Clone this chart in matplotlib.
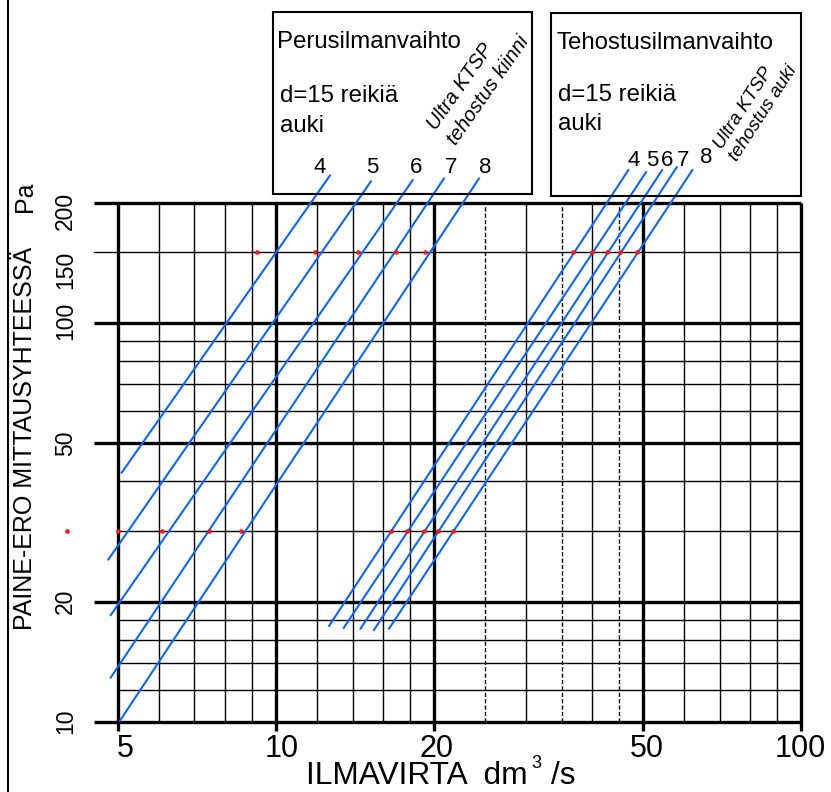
import matplotlib
matplotlib.use("Agg")
import matplotlib.pyplot as plt
from matplotlib.patches import Rectangle
from matplotlib.lines import Line2D
from matplotlib.ticker import NullLocator
import matplotlib.transforms as mtransforms

plt.rcParams['font.family'] = ['Liberation Sans', 'DejaVu Sans']

W, H = 831, 792

# ---------------- data ----------------
# x-axis: airflow dm3/s, y-axis: pressure difference Pa
xtick_vals = [5, 10, 20, 50, 100]
xtick_labels = ['5', '10', '20', '50', '100']
ytick_vals = [10, 20, 50, 100, 150, 200]
ytick_labels = ['10', '20', '50', '100', '150', '200']

x_thick = [5, 10, 20, 50, 100]
x_thin = [6, 7, 8, 9, 12, 14, 16, 18, 30, 40, 60, 70, 80, 90]
x_dashed = [25, 35, 45]
y_thick = [10, 20, 50, 100, 200]
y_thin = [12, 14, 16, 18, 30, 40, 60, 70, 80, 90]
y_thin_ext = [150]

# Perusilmanvaihto lines (setting 4..8): start / end points
base_labels = ['4', '5', '6', '7', '8']
base_q0 = [5.09, 4.80, 4.85, 4.85, 5.05]
base_p0 = [42.1, 25.5, 18.5, 12.9, 10.06]
base_q1 = [12.68, 15.17, 18.22, 20.9, 24.37]
base_p1 = [233.7, 225.8, 227.5, 229.7, 229.7]

# Tehostusilmanvaihto lines (setting 4..8)
boost_labels = ['4', '5', '6', '7', '8']
boost_q0 = [12.63, 13.47, 14.5, 15.38, 16.43]
boost_p0 = [17.38, 17.18, 17.11, 16.98, 17.11]
boost_q1 = [46.9, 50.7, 54.4, 58.0, 62.1]
boost_p1 = [241.0, 238.3, 241.0, 245.2, 241.0]

# measured points (red dots)
base_pts_q_150 = [9.22, 11.87, 14.32, 16.92, 19.24]
base_pts_q_30 = [4.01, 5.0, 6.07, 7.47, 8.59]
boost_pts_q_150 = [36.75, 39.95, 42.66, 45.2, 48.8]
boost_pts_q_30 = [16.57, 17.8, 19.17, 20.39, 21.77]
pts_p_high = 150
pts_p_low = 30

# ---------------- figure ----------------
fig = plt.figure(figsize=(W / 100, H / 100), dpi=100)


def fx(px):
    return px / W


def fy(py):
    return 1 - py / H


ax_l, ax_r, ax_t, ax_b = 117.7, 801.0, 202.5, 721.7
ax = fig.add_axes([fx(ax_l), fy(ax_b), fx(ax_r) - fx(ax_l), fy(ax_t) - fy(ax_b)])
ax.set_xscale('log')
ax.set_yscale('log')
ax.set_xlim(5, 100)
ax.set_ylim(10, 200)
for s in ax.spines.values():
    s.set_visible(False)
ax.xaxis.set_minor_locator(NullLocator())
ax.yaxis.set_minor_locator(NullLocator())
ax.set_xticks(xtick_vals, xtick_labels)
ax.tick_params(axis='x', length=0, pad=8.6, labelsize=22)
ax.set_yticks([])
xlab_shift_px = [7.5, 5.5, 3.0, 3.5, -1.0]
for lab, sh in zip(ax.get_xticklabels(), xlab_shift_px):
    lab.set_transform(lab.get_transform() +
                      mtransforms.ScaledTranslation(sh / 100, 0, fig.dpi_scale_trans))

# grid lines
left_ext = -(ax_l - 93.5) / (ax_r - ax_l)
bottom_ext = -(731.0 - ax_b) / (ax_b - ax_t)
thick_lw, thin_lw = 2.4, 1.0
for v in x_thick:
    ax.axvline(v, ymin=bottom_ext, ymax=1, color='black', lw=thick_lw, clip_on=False, zorder=2,
               solid_capstyle='butt')
for v in x_thin:
    ax.axvline(v, color='black', lw=thin_lw, zorder=1)
for v in x_dashed:
    ax.axvline(v, color='black', lw=thin_lw, ls=(0, (3, 1.6)), zorder=1)
for v in y_thick:
    ax.axhline(v, xmin=left_ext, xmax=1, color='black', lw=thick_lw, clip_on=False, zorder=2,
               solid_capstyle='butt')
for v in y_thin:
    ax.axhline(v, color='black', lw=thin_lw, zorder=1)
for v in y_thin_ext:
    ax.axhline(v, xmin=left_ext, xmax=1, color='black', lw=thin_lw, clip_on=False, zorder=1)

# y tick labels (rotated)
ylab_shift_px = [0, 0, 0, 1.5, -17.5, -8.5]
for v, lab, sh in zip(ytick_vals, ytick_labels, ylab_shift_px):
    tr = mtransforms.blended_transform_factory(ax.transAxes, ax.transData) + \
        mtransforms.ScaledTranslation(0, sh / 100, fig.dpi_scale_trans)
    ax.text((65.5 - ax_l) / (ax_r - ax_l), v, lab, transform=tr, rotation=90,
            ha='center', va='center', fontsize=16.5, clip_on=False)

# blue lines
blue = '#0a68f5'
for q0, p0, q1, p1 in zip(base_q0, base_p0, base_q1, base_p1):
    ax.plot([q0, q1], [p0, p1], color=blue, lw=1.5, clip_on=False, zorder=3)
for q0, p0, q1, p1 in zip(boost_q0, boost_p0, boost_q1, boost_p1):
    ax.plot([q0, q1], [p0, p1], color=blue, lw=1.5, clip_on=False, zorder=3)

# red points
for qs, p in [(base_pts_q_150, pts_p_high), (base_pts_q_30, pts_p_low),
              (boost_pts_q_150, pts_p_high), (boost_pts_q_30, pts_p_low)]:
    ax.plot(qs, [p] * len(qs), ls='none', marker='o', ms=2.6, mfc='#ff2020', mec='red',
            mew=0.6, clip_on=False, zorder=4)

# ---------------- boxes and texts ----------------
for (x0, y0, x1, y1) in [(272.7, 11.7, 531.7, 194.3), (550.7, 13.3, 800.7, 196.0)]:
    fig.add_artist(Rectangle((fx(x0), fy(y1)), fx(x1) - fx(x0), fy(y0) - fy(y1),
                             transform=fig.transFigure, fill=False, lw=1.5, ec='black', zorder=0.5))

fig.add_artist(Line2D([fx(7.5), fx(7.5)], [0, 1], color='black', lw=1.5, transform=fig.transFigure))


def ftext(px, py, s, size, **kw):
    kw.setdefault('ha', 'left')
    kw.setdefault('va', 'baseline')
    fig.text(fx(px), fy(py), s, fontsize=size, **kw)


ftext(277.3, 48.3, 'Perusilmanvaihto', 17.3)
ftext(280.0, 102.5, 'd=15 reikiä', 17.3)
ftext(280.0, 132.5, 'auki', 17.3)
ftext(556.7, 49.0, 'Tehostusilmanvaihto', 17.3)
ftext(557.7, 101.0, 'd=15 reikiä', 17.3)
ftext(557.7, 130.0, 'auki', 17.3)

base_lab_x = [319.3, 372.2, 416.0, 451.5, 485.0]
for lab, x in zip(base_labels, base_lab_x):
    ftext(x, 173.3, lab, 16, ha='center')
boost_lab_x = [633.7, 652.5, 667.5, 683.0, 705.8]
boost_lab_y = [166.3, 166.3, 166.3, 166.3, 163.3]
for lab, x, y in zip(boost_labels, boost_lab_x, boost_lab_y):
    ftext(x, y, lab, 16, ha='center')

ftext(436.0, 130.7, 'Ultra KTSP', 14.5, style='italic', rotation=55, rotation_mode='anchor')
ftext(456.0, 146.0, 'tehostus kiinni', 14.5, style='italic', rotation=55, rotation_mode='anchor')
ftext(722.3, 150.0, 'Ultra KTSP', 13.5, style='italic', rotation=57, rotation_mode='anchor')
ftext(736.7, 161.7, 'tehostus auki', 13.5, style='italic', rotation=57, rotation_mode='anchor')

# axis titles
ftext(32.0, 629.8, 'PAINE-ERO MITTAUSYHTEESSÄ', 18, rotation=90, rotation_mode='anchor')
ftext(32.0, 212.4, 'Pa', 18, rotation=90, rotation_mode='anchor')
ftext(306.0, 791.5, 'ILMAVIRTA  dm', 22.8, va='bottom')
ftext(531.5, 768.0, '3', 13)
ftext(551.0, 791.5, '/s', 22.8, va='bottom')

fig.savefig('out.png', dpi=100)
